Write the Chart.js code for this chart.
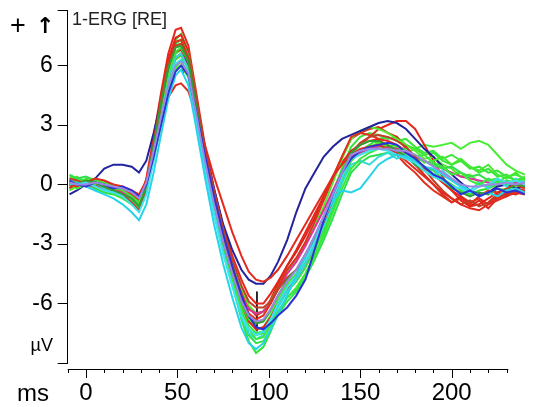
<!DOCTYPE html>
<html>
<head>
<meta charset="utf-8">
<script src="https://cdn.jsdelivr.net/npm/chart.js@4.4.1/dist/chart.umd.min.js"></script>
<style>
  body { margin: 0; background: #fff; }
  #wrap { width: 545px; height: 407px; }
</style>
</head>
<body>
<div id="wrap"><canvas id="myChart" width="545" height="407"></canvas></div>
<script>
// time points (ms) shared by every trace
var times = [-9,-5,0,5,10,15,20,25,29,33,37,41,45,49,52,56,60,65,70,75,80,85,89,93,97,101,105,110,115,120,125,130,135,140,145,150,155,160,165,170,175,180,185,190,195,200,205,210,215,220,225,230,235,240];

// traces in µV
var lavender = [0.1,0.0,0.0,0.1,0.0,-0.1,-0.2,-0.4,-0.7,0.1,1.7,3.4,5.0,6.0,6.2,5.6,3.7,1.2,-1.0,-2.9,-4.5,-5.9,-6.6,-6.9,-6.8,-6.3,-5.6,-4.9,-4.3,-3.5,-2.6,-1.6,-0.5,0.6,1.5,1.7,1.8,1.8,1.8,1.7,1.7,1.5,1.2,0.9,0.6,0.3,0.0,-0.1,-0.1,0.0,0.0,0.1,0.0,0.1];
var blue2 = [0.2,0.0,-0.1,0.1,0.0,-0.2,-0.1,-0.3,-0.6,0.0,1.4,3.0,4.6,5.7,6.0,5.5,3.8,1.5,-0.6,-2.5,-4.1,-5.6,-6.6,-7.2,-7.3,-7.0,-6.6,-6.2,-5.6,-4.8,-3.3,-1.8,-0.5,0.6,1.3,1.7,1.9,2.0,2.1,2.0,1.6,1.3,0.9,0.5,0.3,-0.1,-0.5,-0.3,-0.6,-0.4,-0.2,-0.4,-0.3,-0.5];
var cyan1 = [0.0,0.1,-0.1,-0.3,-0.5,-0.7,-1.0,-1.4,-1.8,-1.0,0.6,2.5,4.3,5.5,5.8,5.0,3.0,0.4,-2.0,-4.0,-5.7,-7.2,-8.0,-8.3,-8.0,-7.3,-6.5,-5.6,-4.6,-3.6,-2.6,-1.6,-0.8,-0.3,-0.4,-0.2,0.4,1.0,1.3,1.5,1.4,1.2,0.9,0.8,0.5,0.2,-0.1,-0.3,-0.6,-0.4,-0.6,-0.3,-0.2,-0.4];
var cyan2 = [0.2,0.0,0.1,-0.1,-0.3,-0.4,-0.6,-1.0,-1.4,-0.5,1.2,3.2,5.0,6.1,6.3,5.5,3.4,0.8,-1.5,-3.5,-5.1,-6.6,-7.3,-7.6,-7.4,-6.8,-6.0,-5.2,-4.6,-3.8,-2.9,-1.8,-0.7,0.4,1.3,1.5,1.7,1.8,1.7,1.5,1.3,1.1,0.7,0.4,0.2,-0.1,-0.2,-0.4,-0.1,0.0,0.3,0.1,0.2,0.0];
var cyan3 = [0.3,0.1,0.0,0.1,-0.2,-0.4,-0.5,-0.9,-1.3,-0.4,1.5,3.5,5.4,6.4,6.6,5.8,3.7,1.0,-1.4,-3.4,-5.1,-6.7,-7.5,-7.8,-7.6,-7.0,-6.2,-5.4,-4.8,-4.0,-3.1,-2.1,-1.0,0.1,1.0,1.2,1.0,1.4,1.6,1.3,1.5,1.2,0.9,0.5,0.7,0.3,0.0,-0.3,0.1,-0.2,0.2,-0.1,0.3,0.1];
var darkGreen = [0.1,0.0,0.2,0.1,-0.1,-0.3,-0.5,-0.7,-1.1,-0.1,2.0,4.1,5.9,6.9,7.0,6.2,4.1,1.4,-0.9,-2.9,-4.5,-5.9,-6.7,-7.0,-6.9,-6.3,-5.6,-4.8,-4.3,-3.5,-2.7,-1.7,-0.6,0.6,1.6,2.0,2.2,2.2,2.0,1.7,1.4,1.0,0.7,0.4,0.2,-0.2,-0.4,-0.6,-0.4,-0.5,-0.2,-0.3,0.0,-0.1];
var red1 = [-0.1,0.1,0.0,-0.2,-0.1,-0.3,-0.4,-0.6,-0.9,0.3,2.4,4.6,6.6,7.8,7.9,7.0,4.8,2.0,-0.2,-2.1,-3.6,-4.8,-5.6,-6.0,-6.0,-5.5,-4.9,-4.1,-3.3,-2.4,-1.5,-0.6,0.4,1.1,1.7,2.0,2.4,2.8,3.0,3.2,3.2,2.8,2.0,1.2,0.4,-0.3,-0.8,-1.1,-1.0,-0.7,-0.4,-0.5,-0.2,-0.3];
var red2 = [0.2,0.0,0.1,0.3,0.2,0.0,-0.1,-0.3,-0.5,0.2,1.6,3.1,4.4,5.0,5.1,4.7,3.6,2.0,0.4,-1.0,-2.4,-3.6,-4.4,-4.8,-4.9,-4.7,-4.3,-3.6,-2.8,-2.0,-1.2,-0.4,0.4,1.0,1.5,1.8,1.9,2.0,1.8,1.6,1.2,0.8,0.4,0.0,-0.4,-0.7,-1.0,-1.2,-1.3,-1.0,-0.8,-0.6,-0.4,-0.5];
var red3 = [0.0,-0.1,0.1,0.0,-0.2,-0.1,-0.3,-0.5,-0.8,0.2,2.2,4.3,6.1,7.2,7.3,6.4,4.2,1.5,-0.8,-2.7,-4.2,-5.6,-6.5,-6.8,-6.6,-6.0,-5.2,-4.3,-3.7,-2.9,-1.9,-0.8,0.3,1.4,2.4,2.6,2.5,2.3,1.9,1.5,1.0,0.6,0.1,-0.3,-0.6,-0.9,-0.7,-1.0,-0.6,-0.3,-0.4,-0.2,0.0,-0.2];
var red4 = [0.0,0.2,0.1,-0.1,0.0,-0.2,-0.3,-0.6,-1.0,-0.1,2.0,4.3,6.3,7.4,7.55,6.7,4.5,1.7,-0.7,-2.8,-4.5,-6.0,-6.9,-7.3,-7.2,-6.7,-6.0,-5.3,-4.8,-4.0,-3.1,-2.0,-0.8,0.5,1.6,2.0,2.2,2.3,2.2,2.0,1.7,1.3,0.9,0.5,0.1,-0.3,-0.6,-0.9,-0.7,-1.0,-0.6,-0.4,-0.5,-0.3];
var red5 = [-0.2,0.0,0.2,0.0,-0.1,-0.2,-0.2,-0.5,-0.8,0.1,2.0,4.0,5.8,6.7,6.8,6.1,4.3,1.7,-0.5,-2.5,-4.1,-5.4,-6.2,-6.6,-6.4,-5.8,-5.0,-4.1,-3.4,-2.6,-1.7,-0.6,0.4,1.4,2.3,2.6,2.8,2.9,2.6,2.4,1.8,1.0,0.5,0.0,-0.5,-0.9,-0.6,-1.1,-0.8,-1.2,-0.7,-0.5,-0.2,-0.4];
var brownRed = [0.3,0.2,0.0,0.1,-0.1,-0.3,-0.5,-0.9,-1.3,-0.3,1.8,4.0,5.9,7.0,7.1,6.4,4.5,1.9,-0.3,-2.2,-3.8,-5.1,-5.9,-6.2,-6.2,-5.9,-5.3,-4.7,-4.3,-3.7,-2.9,-1.9,-0.7,0.5,1.6,2.1,2.4,2.5,2.4,2.2,1.9,1.4,0.8,0.2,-0.3,-0.7,-1.0,-0.8,-1.1,-0.9,-0.5,-0.6,-0.3,-0.4];
var magenta = [0.0,0.1,0.0,-0.1,-0.2,-0.3,-0.4,-0.6,-0.9,0.0,1.7,3.6,5.4,6.4,6.6,5.9,3.9,1.3,-0.9,-2.8,-4.3,-5.6,-6.3,-6.5,-6.4,-6.0,-5.3,-4.5,-3.9,-3.1,-2.2,-1.3,-0.3,0.6,1.4,1.6,1.8,1.9,1.9,1.8,1.6,1.4,1.2,1.0,0.8,0.6,0.4,0.3,0.2,0.1,0.1,0.0,0.1,0.0];
var blue1 = [-0.5,-0.3,0.0,0.3,0.8,1.0,1.0,0.9,0.6,1.2,2.6,4.2,5.6,6.4,6.6,6.0,4.2,1.9,-0.2,-2.0,-3.3,-4.3,-4.8,-5.0,-5.0,-4.6,-3.9,-2.8,-1.4,-0.2,0.6,1.4,1.9,2.3,2.5,2.7,2.9,3.1,3.2,3.1,2.8,2.3,1.8,1.4,0.9,0.5,0.1,-0.3,-0.5,-0.4,-0.1,0.0,-0.2,-0.1];
var green1 = [0.3,0.2,0.0,-0.2,-0.4,-0.5,-0.7,-1.0,-1.3,-0.4,1.6,3.9,6.0,7.3,7.6,6.7,4.5,1.6,-1.0,-3.2,-5.0,-6.8,-7.9,-8.5,-8.2,-7.4,-6.5,-5.7,-5.3,-4.5,-3.6,-2.5,-1.2,0.1,1.2,1.6,1.9,2.0,1.9,1.7,1.5,1.2,0.9,0.7,0.3,0.0,-0.3,-0.5,-0.3,-0.2,0.0,0.2,0.1,0.3];
var green2 = [0.4,0.3,0.2,0.1,-0.1,-0.2,-0.4,-0.6,-1.0,-0.2,1.5,3.4,5.2,6.3,6.5,5.8,3.9,1.4,-0.8,-2.7,-4.3,-5.8,-6.8,-7.3,-7.2,-6.6,-5.9,-5.1,-4.7,-3.9,-3.0,-2.0,-0.9,0.3,1.3,1.7,1.9,2.1,1.8,1.9,1.6,1.8,2.0,1.9,2.0,2.1,1.8,2.1,2.2,2.0,1.5,1.0,0.7,0.5];
var green3 = [0.0,0.2,0.1,0.0,0.1,-0.1,-0.3,-0.6,-0.9,0.0,1.8,3.8,5.6,6.7,6.9,6.2,4.2,1.5,-0.9,-3.0,-4.7,-6.3,-7.3,-7.8,-7.7,-7.1,-6.4,-5.7,-5.2,-4.5,-3.6,-2.6,-1.4,-0.2,0.8,1.3,1.6,1.8,2.0,1.7,1.8,1.4,1.5,1.1,0.9,0.5,0.6,0.2,0.0,0.3,0.1,0.4,0.2,0.3];
var green4 = [-0.3,-0.1,0.2,0.3,0.0,-0.2,-0.2,-0.4,-0.7,0.1,1.7,3.3,4.9,5.9,6.2,5.6,3.8,1.4,-0.6,-2.4,-3.9,-5.2,-6.1,-6.5,-6.4,-5.9,-5.2,-4.4,-3.8,-3.0,-2.1,-1.1,0.1,1.3,2.3,2.7,2.9,2.8,2.6,2.3,2.0,1.7,1.3,1.4,1.0,0.8,0.4,0.5,0.1,-0.1,0.2,0.0,-0.1,0.1];
var green5 = [0.5,0.3,0.4,0.2,0.0,-0.3,-0.6,-0.9,-1.2,-0.3,1.7,4.0,6.0,7.1,7.3,6.5,4.4,1.6,-1.0,-3.2,-5.0,-6.6,-7.6,-8.0,-7.9,-7.3,-6.6,-5.9,-5.4,-4.7,-3.8,-2.8,-1.7,-0.5,0.6,1.1,1.4,1.5,1.6,1.5,1.4,1.3,1.2,1.0,0.8,0.9,0.6,0.4,0.5,0.2,0.3,0.0,0.2,0.1];
var green6 = [-0.2,0.0,0.3,0.2,0.1,0.0,-0.2,-0.5,-0.8,0.1,1.9,3.9,5.7,6.6,6.8,6.0,4.0,1.3,-1.0,-3.0,-4.7,-6.2,-7.1,-7.5,-7.4,-6.8,-6.0,-5.2,-4.6,-3.7,-2.7,-1.6,-0.4,0.8,1.9,2.4,2.6,2.5,2.3,2.4,2.0,1.8,1.5,1.6,1.2,1.0,1.2,0.8,0.9,0.6,0.7,0.4,0.5,0.3];
var green7 = [0.1,-0.2,0.0,-0.1,-0.3,-0.2,-0.5,-0.7,-1.0,-0.3,1.3,3.0,4.7,5.8,6.0,5.4,3.6,1.1,-1.1,-3.0,-4.6,-6.0,-6.8,-7.0,-6.9,-6.4,-5.7,-5.0,-4.5,-3.7,-2.8,-1.8,-0.7,0.5,1.5,2.0,2.2,2.1,1.9,2.0,1.6,1.5,1.1,1.2,1.4,1.0,1.3,0.9,0.7,1.0,0.5,0.3,0.6,0.2];
var green8 = [0.2,0.4,0.1,-0.2,-0.3,-0.4,-0.6,-0.8,-1.1,-0.2,1.9,4.0,6.0,7.0,7.1,6.3,4.3,1.5,-0.9,-3.0,-4.8,-6.4,-7.3,-7.6,-7.5,-6.9,-6.1,-5.4,-4.9,-4.2,-3.3,-2.3,-1.2,0.1,1.2,1.7,2.0,2.3,2.4,2.2,2.3,1.9,1.6,1.7,1.3,1.5,1.2,0.9,0.6,0.8,0.4,0.5,0.2,0.4];

// peak / trough cursors
var peakCursorX = [53, 53];
var peakCursorY = [7.4, 5.6];
var troughCursorX = [93.5, 93.5];
var troughCursorY = [-5.4, -7.4];

var yTickVals = [-9, -6, -3, 0, 3, 6, 8.8];
var yLabels = [-6, -3, 0, 3, 6];
var xLabels = [0, 50, 100, 150, 200];

function pts(xs, ys) {
   return xs.map(function(x, i) { return { x: x, y: ys[i] }; });
}
function trace(vals, color) {
   return { data: pts(times, vals), borderColor: color, borderWidth: 2, pointRadius: 0, fill: false, tension: 0 };
}

var datasets = [
   trace(lavender, '#9c88e2'),
   trace(blue2, '#2b32d6'),
   trace(cyan1, '#26d4ea'),
   trace(cyan2, '#3fe2ee'),
   trace(darkGreen, '#2f9e34'),
   trace(red2, '#e22a1e'),
   trace(brownRed, '#c0402a'),
   trace(green3, '#3ee83a'),
   trace(cyan3, '#30dcd8'),
   trace(red3, '#e0301c'),
   trace(green5, '#2fe04a'),
   trace(magenta, '#e0309c'),
   trace(green7, '#44ea30'),
   trace(blue1, '#23239e'),
   trace(green4, '#52ec2c'),
   trace(red5, '#d8281c'),
   trace(red4, '#e8221a'),
   trace(green1, '#34e234'),
   trace(green8, '#3ce43c'),
   trace(red1, '#e8261c'),
   trace(green2, '#46ee34'),
   trace(green6, '#38e63a'),
   { data: pts(peakCursorX, peakCursorY), borderColor: '#111', borderWidth: 1, pointRadius: 0 },
   { data: pts(troughCursorX, troughCursorY), borderColor: '#111', borderWidth: 1, pointRadius: 0 }
];

var fontFam = "'Liberation Sans', Arial, sans-serif";

var frame = {
   id: 'frame',
   afterDraw: function(chart) {
      var ctx = chart.ctx, xs = chart.scales.x, area = chart.chartArea;
      var yLine = area.bottom + 6;
      ctx.save();
      ctx.strokeStyle = '#000';
      ctx.lineWidth = 1;
      ctx.beginPath();
      ctx.moveTo(xs.getPixelForValue(-10), yLine + 0.5);
      ctx.lineTo(xs.getPixelForValue(231), yLine + 0.5);
      for (var t = -10; t <= 230; t += 10) {
         var px = Math.round(xs.getPixelForValue(t)) + 0.5;
         ctx.moveTo(px, yLine);
         ctx.lineTo(px, yLine + (t % 50 === 0 ? 9 : 4));
      }
      ctx.stroke();

      ctx.fillStyle = '#000';
      ctx.textBaseline = 'middle';
      ctx.textAlign = 'left';
      ctx.font = '24px ' + fontFam;
      ctx.fillText('ms', 17, 394);
      ctx.textAlign = 'right';
      ctx.font = '18px ' + fontFam;
      ctx.fillText('\u00b5V', 53, 346);

      ctx.textAlign = 'left';
      ctx.textBaseline = 'alphabetic';
      ctx.fillStyle = '#222';
      ctx.font = '18px ' + fontFam;
      ctx.fillText('1-ERG [RE]', 72, 25);

      ctx.fillStyle = '#000';
      ctx.font = '27px ' + fontFam;
      ctx.fillText('+', 10, 34);
      ctx.font = 'bold 22px DejaVu Sans';
      ctx.fillText('\u2191', 36, 33);
      ctx.restore();
   }
};

var ctx = document.getElementById('myChart').getContext('2d');
var chart = new Chart(ctx, {
   type: 'line',
   data: { datasets: datasets },
   options: {
      responsive: false,
      animation: false,
      devicePixelRatio: 1,
      layout: { padding: { top: 10, right: 16.5, left: 0, bottom: 0 } },
      plugins: { legend: { display: false }, tooltip: { enabled: false } },
      scales: {
         x: {
            type: 'linear',
            min: -10,
            max: 242,
            afterFit: function(s) { s.height = 44; s.paddingLeft = 0; s.paddingRight = 0; },
            afterBuildTicks: function(s) { s.ticks = xLabels.map(function(v) { return { value: v }; }); },
            grid: { display: false, drawTicks: false },
            border: { display: false },
            ticks: { color: '#000', padding: 16, font: { size: 24, family: fontFam } }
         },
         y: {
            min: -9,
            max: 8.8,
            afterFit: function(s) { s.width = 67.7; s.paddingTop = 0; s.paddingBottom = 0; },
            afterBuildTicks: function(s) { s.ticks = yTickVals.map(function(v) { return { value: v }; }); },
            grid: { drawOnChartArea: false, drawTicks: true, tickLength: 10, color: '#000' },
            border: { display: true, color: '#000', width: 1 },
            ticks: {
               color: '#000',
               padding: 5,
               font: { size: 23, family: fontFam },
               callback: function(v) { return yLabels.indexOf(v) >= 0 ? String(v) : ''; }
            }
         }
      }
   },
   plugins: [frame]
});
</script>
</body>
</html>
